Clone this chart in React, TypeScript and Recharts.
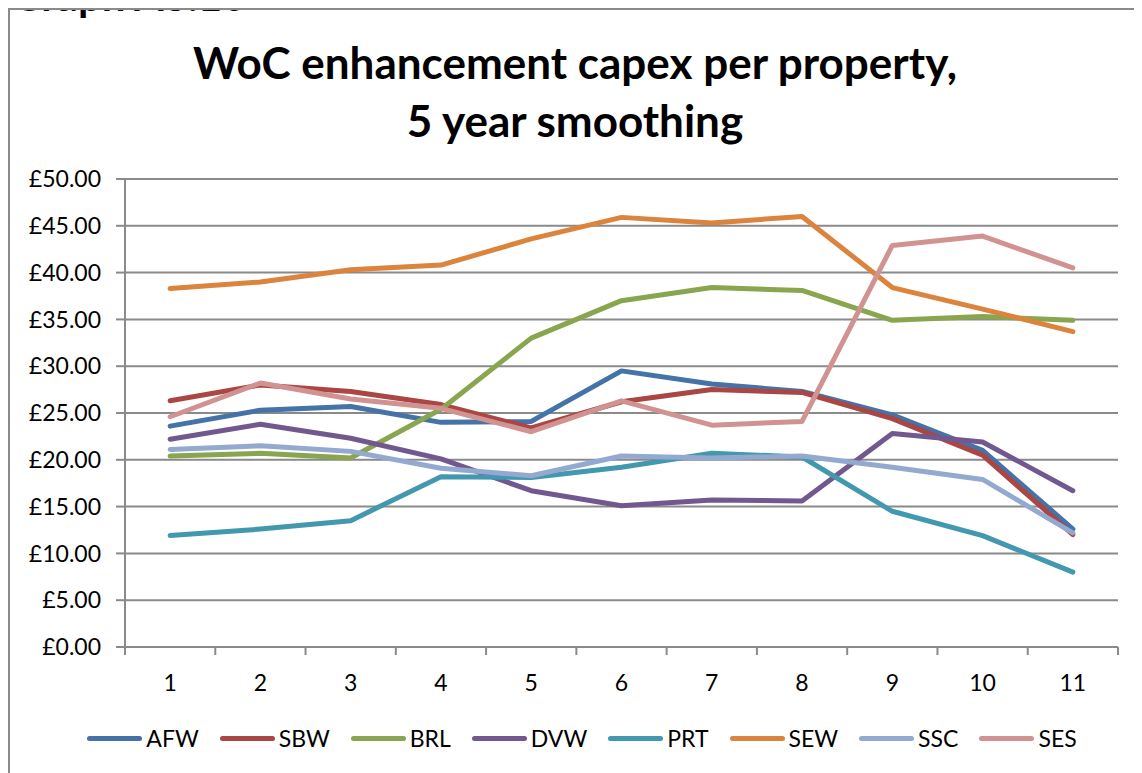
import { CartesianGrid, Line, LineChart, XAxis, YAxis } from "recharts";

// Five-year smoothed WoC enhancement capex per property, by company
const periods = ["1", "2", "3", "4", "5", "6", "7", "8", "9", "10", "11"];

const afw = [23.6, 25.3, 25.7, 24.0, 24.1, 29.5, 28.1, 27.3, 24.8, 21.0, 12.6];
const sbw = [26.3, 28.0, 27.3, 25.9, 23.4, 26.2, 27.5, 27.2, 24.4, 20.5, 12.0];
const brl = [20.4, 20.7, 20.2, 25.4, 33.0, 37.0, 38.4, 38.1, 34.9, 35.3, 34.9];
const dvw = [22.2, 23.8, 22.3, 20.1, 16.7, 15.1, 15.7, 15.6, 22.8, 21.9, 16.7];
const prt = [11.9, 12.6, 13.5, 18.2, 18.1, 19.2, 20.7, 20.3, 14.5, 11.9, 8.0];
const sew = [38.3, 39.0, 40.3, 40.8, 43.6, 45.9, 45.3, 46.0, 38.4, 36.1, 33.7];
const ssc = [21.1, 21.5, 20.9, 19.1, 18.3, 20.4, 20.2, 20.4, 19.2, 17.9, 12.2];
const ses = [24.6, 28.2, 26.5, 25.5, 23.0, 26.3, 23.7, 24.1, 42.9, 43.9, 40.5];

const yTicks = [0, 5, 10, 15, 20, 25, 30, 35, 40, 45, 50];

const series = [
  { key: "AFW", values: afw, color: "#4572A7" },
  { key: "SBW", values: sbw, color: "#AA4643" },
  { key: "BRL", values: brl, color: "#89A54E" },
  { key: "DVW", values: dvw, color: "#71588F" },
  { key: "PRT", values: prt, color: "#4198AF" },
  { key: "SEW", values: sew, color: "#DB843D" },
  { key: "SSC", values: ssc, color: "#93A9CF" },
  { key: "SES", values: ses, color: "#D19392" },
];

const chartData = periods.map((period, i) => {
  const row: Record<string, string | number> = { period };
  for (const s of series) row[s.key] = s.values[i];
  return row;
});

const FONT = "Lato, 'Open Sans', sans-serif";
const GREY = "#8a8a8a";
const WIDTH = 1134;
const HEIGHT = 765;
const MARGIN = { top: 171, right: 24, bottom: 66, left: 0 };
const Y_AXIS_W = 117;
const PLOT_W = WIDTH - MARGIN.left - MARGIN.right - Y_AXIS_W;
const HALF_BAND = PLOT_W / periods.length / 2;
const TICK_SIZE = 8;
const TICK_MARGIN = 20;

// Excel-style category axis: tick marks sit between categories, labels in the middle
function PeriodTick(props: any) {
  const { x, y, payload, index } = props;
  const axisY = y - TICK_MARGIN - TICK_SIZE;
  return (
    <g>
      <line x1={x - HALF_BAND} x2={x - HALF_BAND} y1={axisY} y2={axisY + TICK_SIZE} stroke={GREY} strokeWidth={2} />
      {index === periods.length - 1 && (
        <line x1={x + HALF_BAND} x2={x + HALF_BAND} y1={axisY} y2={axisY + TICK_SIZE} stroke={GREY} strokeWidth={2} />
      )}
      <text x={x} y={y} dy="0.71em" textAnchor="middle" fill="#000" fontSize={23} fontFamily={FONT}>
        {payload.value}
      </text>
    </g>
  );
}

export default function App() {
  return (
    <div style={{ position: "relative", width: WIDTH, height: HEIGHT, fontFamily: FONT }}>
      <style>{"body{overflow:hidden;background:#fff}"}</style>
      <div
        style={{
          position: "absolute",
          left: 3,
          top: -34,
          fontSize: 42,
          lineHeight: "42px",
          fontWeight: 700,
          color: "#000",
          whiteSpace: "nowrap",
        }}
      >
        Graph A3.10
      </div>
      <div
        style={{
          position: "absolute",
          left: 0,
          top: 0,
          width: WIDTH,
          height: HEIGHT,
          borderLeft: `2px solid ${GREY}`,
          borderTop: `2px solid ${GREY}`,
          boxSizing: "border-box",
          pointerEvents: "none",
        }}
      />
      <div
        style={{
          position: "absolute",
          left: 0,
          top: 25,
          width: WIDTH,
          textAlign: "center",
          fontSize: 44,
          lineHeight: "58px",
          fontWeight: 700,
          color: "#000",
        }}
      >
        WoC enhancement capex per property,
        <br />5 year smoothing
      </div>
      <div style={{ position: "absolute", left: 0, top: 0 }}>
        <LineChart width={WIDTH} height={HEIGHT} data={chartData} margin={MARGIN}>
          <CartesianGrid vertical={false} stroke={GREY} strokeWidth={2} />
          <XAxis
            dataKey="period"
            type="category"
            height={60}
            padding={{ left: HALF_BAND, right: HALF_BAND }}
            stroke={GREY}
            strokeWidth={2}
            tickLine={false}
            tickSize={TICK_SIZE}
            tickMargin={TICK_MARGIN}
            interval={0}
            tick={<PeriodTick />}
          />
          <YAxis
            type="number"
            domain={[0, 50]}
            ticks={yTicks}
            width={Y_AXIS_W}
            stroke={GREY}
            strokeWidth={2}
            tickSize={9}
            tickMargin={15}
            tickFormatter={(v: number) => `£${v.toFixed(2)}`}
            tick={{ fill: "#000", fontSize: 23, fontFamily: FONT }}
            tickLine={{ stroke: GREY, strokeWidth: 2 }}
          />
          {series.map((s) => (
            <Line
              key={s.key}
              type="linear"
              dataKey={s.key}
              stroke={s.color}
              strokeWidth={5}
              strokeLinecap="round"
              strokeLinejoin="round"
              dot={false}
              activeDot={false}
              isAnimationActive={false}
            />
          ))}
        </LineChart>
      </div>
      <div
        style={{
          position: "absolute",
          left: 0,
          top: 715,
          width: WIDTH,
          height: 30,
          paddingLeft: 14,
          boxSizing: "border-box",
          display: "flex",
          alignItems: "center",
          justifyContent: "center",
          gap: 21,
          fontSize: 23,
          color: "#000",
        }}
      >
        {series.map((s) => (
          <div key={s.key} style={{ display: "flex", alignItems: "center", gap: 4 }}>
            <span style={{ display: "inline-block", width: 55, height: 5, borderRadius: 3, background: s.color }} />
            <span>{s.key}</span>
          </div>
        ))}
      </div>
    </div>
  );
}
